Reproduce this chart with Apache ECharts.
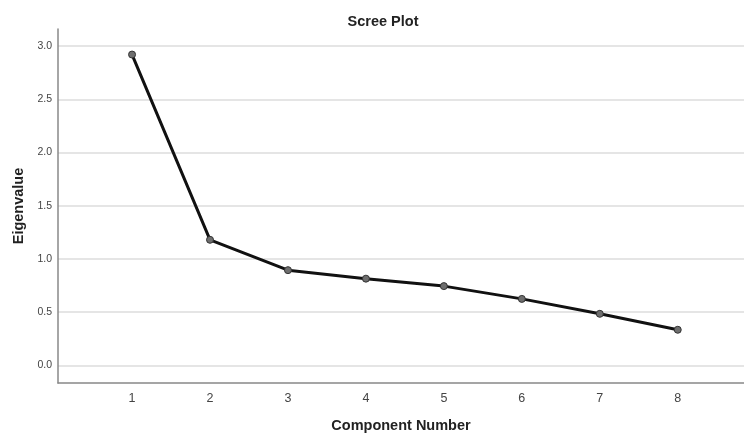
<!DOCTYPE html>
<html>
<head>
<meta charset="utf-8">
<script src="https://cdn.jsdelivr.net/npm/echarts@6/dist/echarts.min.js"></script>
<style>
  html, body { margin: 0; padding: 0; background: #fff; }
  #chart { width: 744px; height: 438px; }
</style>
</head>
<body>
<div id="chart"></div>
<script>
// scree plot data
var components = [1, 2, 3, 4, 5, 6, 7, 8]
var eigenvalues = [2.92, 1.18, 0.895, 0.815, 0.745, 0.625, 0.485, 0.335]
var yTicks = [0, 0.5, 1, 1.5, 2, 2.5, 3]

var points = components.map(function (c, i) { return [c, eigenvalues[i]] })

var chart = echarts.init(document.getElementById('chart'), null, { renderer: 'canvas' })

var font = 'Liberation Sans'

chart.setOption({
  animation: false,
  title: {
    text: 'Scree Plot',
    left: 378,
    top: 9,
    textAlign: 'center',
    textStyle: { fontFamily: font, fontSize: 14.5, fontWeight: 'bold', color: '#222' }
  },
  grid: { left: 58, right: 0, top: 29, bottom: 55 },
  xAxis: {
    type: 'value',
    min: 0.05,
    max: 8.85,
    name: 'Component Number',
    nameLocation: 'middle',
    nameGap: 35,
    nameTextStyle: { fontFamily: font, fontSize: 14.5, fontWeight: 'bold', color: '#222' },
    axisLine: { show: true, onZero: false, lineStyle: { color: '#888', width: 1.5 } },
    axisTick: { show: false, customValues: components },
    splitLine: { show: false },
    axisLabel: {
      customValues: components,
      margin: 9,
      fontFamily: font,
      fontSize: 12.5,
      color: '#444'
    }
  },
  yAxis: {
    type: 'value',
    min: -0.165,
    max: 3.16,
    name: 'Eigenvalue',
    nameLocation: 'middle',
    nameGap: 31,
    nameTextStyle: { fontFamily: font, fontSize: 14.5, fontWeight: 'bold', color: '#222' },
    axisLine: { show: true, lineStyle: { color: '#888', width: 1.5 } },
    axisTick: { show: false, customValues: yTicks },
    splitLine: {
      show: true,
      lineStyle: { color: '#dcdcdc', width: 1.5 }
    },
    axisLabel: {
      customValues: yTicks,
      margin: 6,
      fontFamily: font,
      fontSize: 10.5,
      color: '#444',
      formatter: function (v) { return v.toFixed(1) }
    }
  },
  series: [{
    type: 'line',
    data: points,
    symbol: 'circle',
    symbolSize: 7,
    lineStyle: { color: '#111', width: 3 },
    itemStyle: { color: '#6e6e6e', borderColor: '#333', borderWidth: 1 }
  }]
})
</script>
</body>
</html>
